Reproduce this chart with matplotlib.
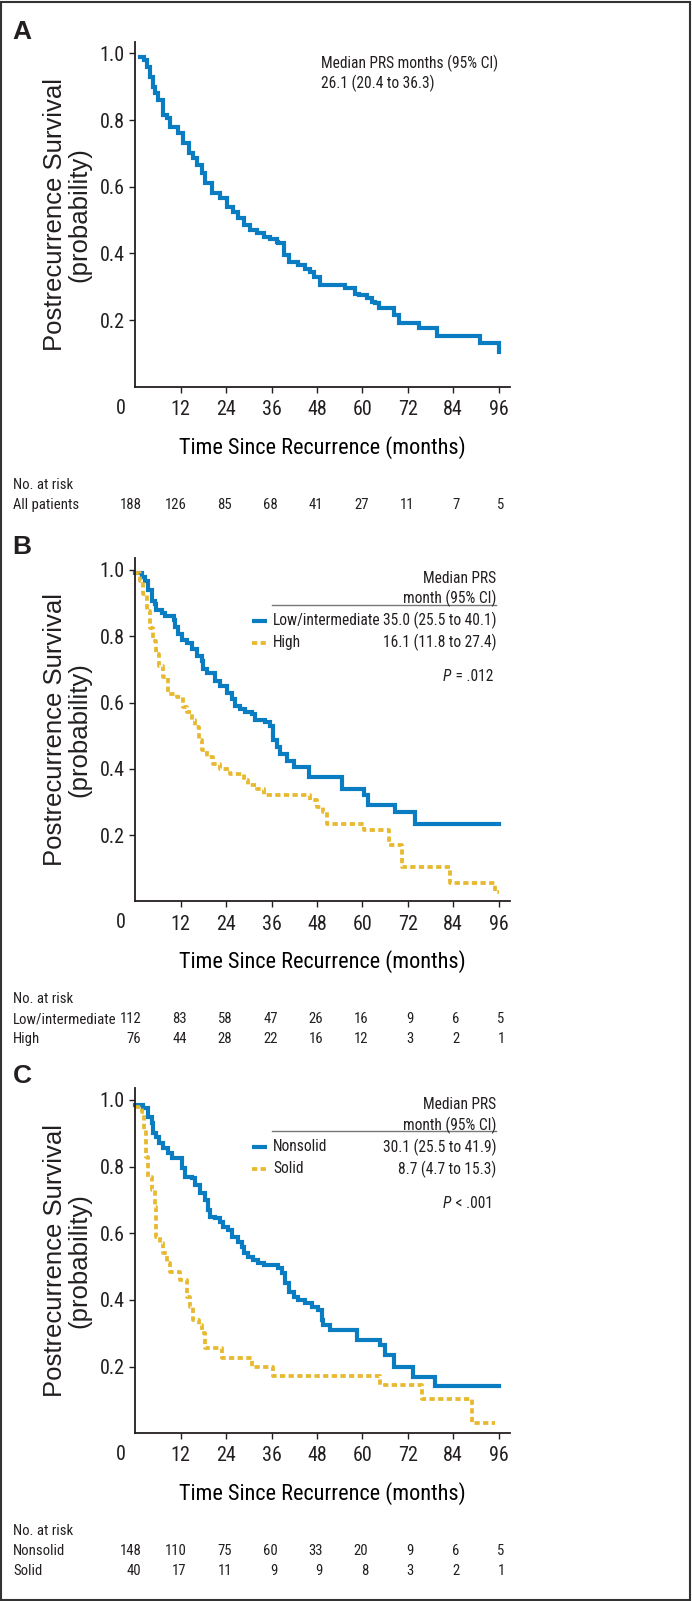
import numpy as np
import matplotlib
matplotlib.use("Agg")
import matplotlib.pyplot as plt
from matplotlib import font_manager
from matplotlib.patches import Rectangle
from matplotlib.transforms import blended_transform_factory

# ── data (months, survival probability) ──
TICKS = [12, 24, 36, 48, 60, 72, 84, 96]
RISK_TIMES = [0, 12, 24, 36, 48, 60, 72, 84, 96]

a_t = [1.2, 2.3, 3.0, 3.9, 4.6, 5.2, 6.1, 7.2, 8.3, 9.3, 11.4, 12.7, 14.3, 15.3, 16.2,
       17.5, 18.4, 20.2, 22.4, 24.2, 25.9, 27.2, 28.6, 30.3, 32.1, 33.9, 35.6, 37.4,
       37.8, 39.2, 40.5, 43.1, 44.9, 46.2, 47.1, 48.9, 55.5, 58.1, 59.0, 61.2, 62.5,
       63.4, 64.3, 68.3, 69.6, 74.9, 79.7, 91.2, 96.0]
a_p = [0.99, 0.98, 0.96, 0.93, 0.90, 0.88, 0.86, 0.815, 0.805, 0.78, 0.76, 0.73, 0.70,
       0.685, 0.665, 0.64, 0.61, 0.58, 0.565, 0.54, 0.525, 0.505, 0.485, 0.47, 0.46,
       0.45, 0.442, 0.435, 0.43, 0.395, 0.375, 0.365, 0.352, 0.345, 0.33, 0.305, 0.295,
       0.278, 0.275, 0.265, 0.255, 0.25, 0.235, 0.215, 0.19, 0.175, 0.152, 0.13, 0.105]

b_low_t = [0, 1.7, 2.6, 3.4, 4.3, 5.2, 5.6, 7.0, 7.8, 10.1, 10.5, 11.4, 12.3, 13.6, 14.9,
           16.2, 17.5, 18.0, 18.9, 21.1, 22.4, 24.2, 25.5, 26.4, 27.7, 29.0, 30.8, 31.7,
           34.3, 35.6, 36.5, 37.4, 38.3, 40.0, 41.8, 45.8, 54.6, 60.3, 61.6, 68.7, 74.0, 96.0]
b_low_p = [0.99, 0.98, 0.967, 0.94, 0.907, 0.897, 0.88, 0.87, 0.86, 0.85, 0.827, 0.807,
           0.79, 0.78, 0.76, 0.74, 0.725, 0.70, 0.69, 0.665, 0.65, 0.63, 0.61, 0.59, 0.58,
           0.57, 0.566, 0.546, 0.54, 0.53, 0.486, 0.466, 0.446, 0.425, 0.405, 0.375, 0.34,
           0.32, 0.29, 0.27, 0.235, 0.235]
b_high_t = [0, 1.2, 2.1, 3.0, 3.9, 4.8, 5.6, 6.3, 7.4, 8.7, 10.9, 12.5, 13.6, 14.9, 15.8,
            16.7, 17.5, 18.9, 20.6, 22.4, 25.0, 28.6, 29.9, 32.1, 33.9, 46.2, 48.0, 49.7,
            50.6, 60.3, 66.9, 70.5, 83.2, 95.1, 96.0]
b_high_p = [0.99, 0.967, 0.927, 0.877, 0.826, 0.786, 0.746, 0.711, 0.676, 0.626, 0.616,
            0.586, 0.571, 0.546, 0.526, 0.486, 0.456, 0.436, 0.416, 0.401, 0.386, 0.366,
            0.351, 0.34, 0.32, 0.305, 0.285, 0.27, 0.235, 0.217, 0.17, 0.105, 0.055, 0.03,
            0.03]

c_non_t = [0, 2.1, 3.4, 4.3, 4.8, 5.6, 6.3, 7.4, 8.7, 9.6, 12.3, 13.1, 14.9, 15.8, 17.1,
           18.4, 19.3, 19.8, 21.1, 22.4, 23.3, 24.6, 25.5, 27.2, 28.1, 28.6, 29.9, 31.2,
           32.5, 33.9, 37.8, 38.7, 39.6, 40.5, 41.8, 43.1, 44.9, 46.6, 48.4, 49.3, 49.7,
           51.5, 58.6, 64.7, 66.0, 68.3, 73.5, 79.3, 96.0]
c_non_p = [0.985, 0.975, 0.95, 0.93, 0.90, 0.89, 0.87, 0.855, 0.84, 0.825, 0.795, 0.77,
           0.765, 0.745, 0.72, 0.70, 0.67, 0.65, 0.645, 0.635, 0.62, 0.61, 0.59, 0.575,
           0.56, 0.54, 0.53, 0.52, 0.51, 0.505, 0.495, 0.48, 0.45, 0.425, 0.41, 0.40, 0.39,
           0.38, 0.37, 0.34, 0.325, 0.31, 0.28, 0.265, 0.235, 0.20, 0.17, 0.142, 0.142]
c_sol_t = [0, 1.7, 2.3, 2.8, 3.4, 4.3, 5.2, 5.6, 6.5, 7.4, 8.3, 9.2, 11.8, 13.6, 14.5,
           15.3, 16.7, 17.5, 18.4, 22.8, 30.8, 36.5, 64.7, 75.7, 89.0, 95.1]
c_sol_p = [0.98, 0.965, 0.91, 0.83, 0.77, 0.73, 0.68, 0.59, 0.57, 0.54, 0.51, 0.485, 0.46,
           0.41, 0.38, 0.34, 0.325, 0.30, 0.255, 0.225, 0.20, 0.172, 0.145, 0.102, 0.03,
           0.03]

risk_all = [188, 126, 85, 68, 41, 27, 11, 7, 5]
risk_low = [112, 83, 58, 47, 26, 16, 9, 6, 5]
risk_high = [76, 44, 28, 22, 16, 12, 3, 2, 1]
risk_non = [148, 110, 75, 60, 33, 20, 9, 6, 5]
risk_sol = [40, 17, 11, 9, 9, 8, 3, 2, 1]

BLUE = "#0a7cc1"
GOLD = "#e8b92f"
INK = "#231f20"

# pick a condensed face if one is installed (reference uses a narrow grotesque)
fonts = font_manager.fontManager.ttflist
names = {f.name for f in fonts}
NARROW, STRETCH = None, "normal"
for nm in ("Liberation Sans Narrow", "Roboto Condensed", "Open Sans Condensed",
           "Noto Sans Condensed", "DejaVu Sans Condensed"):
    if nm in names:
        NARROW = nm
        break
if NARROW is None:
    for nm in ("DejaVu Sans", "Noto Sans", "Roboto", "Open Sans"):
        if any(f.name == nm and f.stretch in ("condensed", "semi-condensed", 500, 400)
               and f.stretch != "normal" for f in fonts):
            NARROW, STRETCH = nm, "condensed"
            break
if NARROW is None:
    NARROW = "Roboto" if "Roboto" in names else "Liberation Sans"
REG = "Liberation Sans" if "Liberation Sans" in names else "DejaVu Sans"

plt.rcParams["font.family"] = NARROW
plt.rcParams["font.stretch"] = STRETCH
plt.rcParams["text.color"] = INK

W, H = 692, 1601
fig = plt.figure(figsize=(W / 100, H / 100), dpi=100)

FS_TICK = 14.5
FS_XLAB = 16
FS_LEG = 11.2
FS_RISK = 10.6


def fy(px):
    return 1 - px / H


def panel(top_px, zero_px, letter, letter_y):
    ax = fig.add_axes([135.3 / W, fy(zero_px), (510 - 135.3) / W, (zero_px - top_px) / H])
    ax.set_xlim(0, 99)
    ax.set_ylim(0, 1.035)
    ax.set_xticks(TICKS)
    ax.set_yticks([0.2, 0.4, 0.6, 0.8, 1.0])
    ax.set_yticklabels(["0.2", "0.4", "0.6", "0.8", "1.0"])
    ax.tick_params(axis="both", direction="out", length=4.5, width=1.0, color=INK,
                   labelsize=FS_TICK, labelcolor=INK)
    ax.tick_params(axis="x", pad=5)
    ax.tick_params(axis="y", pad=3)
    for s in ("top", "right"):
        ax.spines[s].set_visible(False)
    for s in ("left", "bottom"):
        ax.spines[s].set_linewidth(1.3)
        ax.spines[s].set_color(INK)
    # 0 label sits left of the y axis
    ax.text(-3.8, -0.062, "0", ha="center", va="center", fontsize=FS_TICK,
            transform=blended_transform_factory(ax.transData, ax.transAxes))
    ax.set_xlabel("Time Since Recurrence (months)", fontsize=FS_XLAB, labelpad=12)
    fig.text(67 / W, fy((top_px + zero_px) / 2), "Postrecurrence Survival\n(probability)",
             rotation=90, ha="center", va="center", fontsize=18.5, family=REG,
             linespacing=1.0)
    fig.text(22 / W, fy(letter_y), letter, ha="center", va="center", fontsize=19,
             fontweight="bold", family=REG)
    return ax


def risk_rows(ax, rows, y_head):
    tr = blended_transform_factory(ax.transData, fig.transFigure)
    fig.text(13 / W, fy(y_head), "No. at risk", ha="left", va="center", fontsize=FS_RISK)
    for i, (label, vals) in enumerate(rows):
        y = fy(y_head + 20 * (i + 1))
        fig.text(13 / W, y, label, ha="left", va="center", fontsize=FS_RISK)
        for t, v in zip(RISK_TIMES, vals):
            ax.text(t + 1.6, y, str(v), ha="right", va="center", fontsize=FS_RISK,
                    transform=tr)


def gold_step(ax, t, p):
    ax.step(t, p, where="post", color=GOLD, lw=2.7, dashes=(1.4, 0.9),
            solid_capstyle="butt", dash_capstyle="butt", clip_on=False)


def blue_step(ax, t, p):
    ax.step(t, p, where="post", color=BLUE, lw=3.0, solid_joinstyle="miter",
            clip_on=False)


def p_label(ax, x, y, rest):
    t = ax.text(x, y, rest, ha="right", va="center", fontsize=FS_LEG)
    fig.canvas.draw()
    w = t.get_window_extent().width
    ax.annotate("P", (x, y), xytext=(-w * 72 / 100 - 1, 0), textcoords="offset points",
                ha="right", va="center", fontsize=FS_LEG, style="italic")


def legend_block(ax, rows, p_rest, y_head):
    # y values in data units
    ax.text(95.4, y_head, "Median PRS", ha="right", va="center", fontsize=FS_LEG)
    ax.text(95.4, y_head - 0.06, "month (95% CI)", ha="right", va="center", fontsize=FS_LEG)
    ax.plot([36.2, 95.4], [y_head - 0.078, y_head - 0.078], color="#777777", lw=1.0)
    for i, (label, med, color, dashed) in enumerate(rows):
        y = y_head - 0.126 - 0.066 * i
        if dashed:
            ax.plot([30.9, 34.8], [y, y], color=color, lw=2.7, dashes=(1.4, 0.9))
        else:
            ax.plot([30.9, 34.8], [y, y], color=color, lw=3.0, solid_capstyle="butt")
        ax.text(36.4, y, label, ha="left", va="center", fontsize=FS_LEG)
        ax.text(95.4, y, med, ha="right", va="center", fontsize=FS_LEG)
    p_label(ax, 94.6, y_head - 0.295, p_rest)


# ── A ──
axA = panel(41.7, 386.7, "A", 32)
blue_step(axA, a_t, a_p)
axA.text(49.1, 0.971, "Median PRS months (95% CI)", ha="left", va="center", fontsize=FS_LEG)
axA.text(49.1, 0.911, "26.1 (20.4 to 36.3)", ha="left", va="center", fontsize=FS_LEG)
risk_rows(axA, [("All patients", risk_all)], 485)

# ── B ──
axB = panel(558.3, 901.5, "B", 547)
blue_step(axB, b_low_t, b_low_p)
gold_step(axB, b_high_t, b_high_p)
legend_block(axB, [("Low/intermediate", "35.0 (25.5 to 40.1)", BLUE, False),
                   ("High", "16.1 (11.8 to 27.4)", GOLD, True)],
             " = .012", 0.973)
risk_rows(axB, [("Low/intermediate", risk_low), ("High", risk_high)], 999)

# ── C ──
axC = panel(1088.3, 1433.3, "C", 1076)
blue_step(axC, c_non_t, c_non_p)
gold_step(axC, c_sol_t, c_sol_p)
legend_block(axC, [("Nonsolid", "30.1 (25.5 to 41.9)", BLUE, False),
                   ("Solid", "8.7 (4.7 to 15.3)", GOLD, True)],
             " < .001", 0.985)
risk_rows(axC, [("Nonsolid", risk_non), ("Solid", risk_sol)], 1531)

fig.add_artist(Rectangle((1 / W, 1 / H), (W - 3) / W, (H - 3) / H, transform=fig.transFigure,
                         fill=False, edgecolor="#333333", lw=1.5))

fig.savefig("out.png", dpi=100)
print(NARROW, STRETCH, REG)
